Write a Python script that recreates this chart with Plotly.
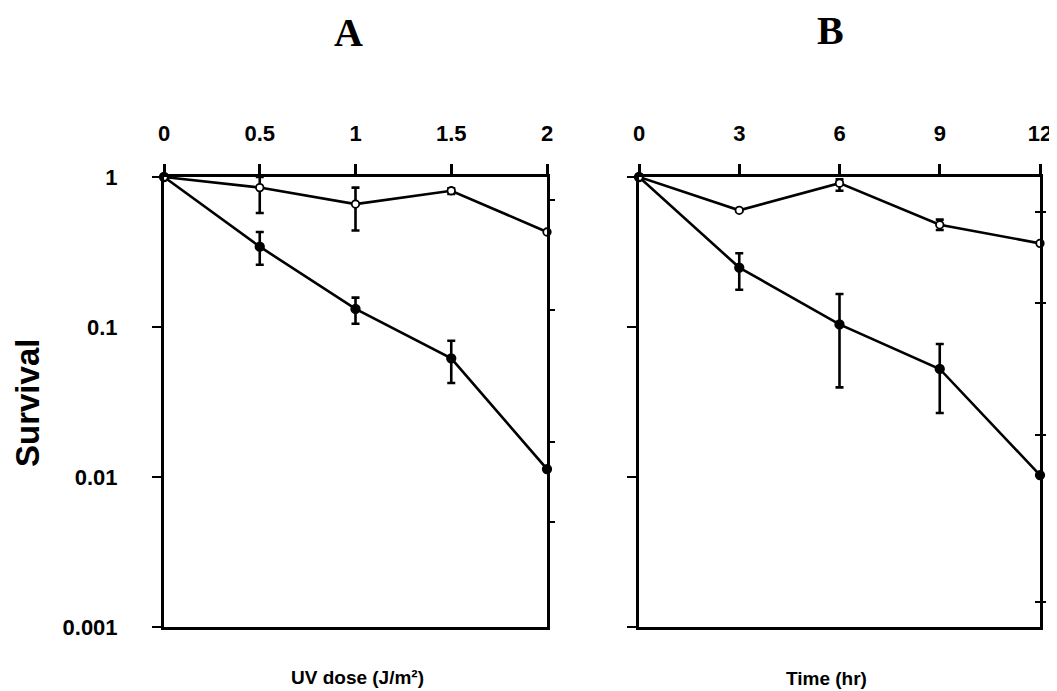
import plotly.graph_objects as go

# ---------------- data ----------------
dose_a = [0, 0.5, 1, 1.5, 2]
open_a = [1.0, 0.85, 0.66, 0.81, 0.43]
open_a_hi = [1.0, 1.0, 0.85, 0.84, 0.43]
open_a_lo = [1.0, 0.575, 0.44, 0.77, 0.43]
filled_a = [1.0, 0.343, 0.132, 0.0618, 0.0113]
filled_a_hi = [1.0, 0.43, 0.157, 0.081, 0.0113]
filled_a_lo = [1.0, 0.26, 0.105, 0.0423, 0.0113]

time_b = [0, 3, 6, 9, 12]
open_b = [1.0, 0.60, 0.91, 0.48, 0.361]
open_b_hi = [1.0, 0.61, 0.965, 0.52, 0.361]
open_b_lo = [1.0, 0.59, 0.81, 0.443, 0.361]
filled_b = [1.0, 0.249, 0.104, 0.0525, 0.0103]
filled_b_hi = [1.0, 0.31, 0.166, 0.077, 0.0103]
filled_b_lo = [1.0, 0.177, 0.0396, 0.0267, 0.0103]

xticks_a = [0, 0.5, 1, 1.5, 2]
xticklabels_a = ["0", "0.5", "1", "1.5", "2"]
xticks_b = [0, 3, 6, 9, 12]
xticklabels_b = ["0", "3", "6", "9", "12"]
yticks = [1, 0.1, 0.01, 0.001]
yticklabels = ["1", "0.1", "0.01", "0.001"]
right_ticks_a = [0.70, 0.13, 0.017, 0.005]
right_ticks_b = [0.585, 0.145, 0.019, 0.00146]

# ---------------- styling ----------------
SANS = "Liberation Sans, Arial, sans-serif"
SERIF = "Liberation Serif, Times New Roman, serif"
BLACK = "black"
LW = 2.6

# page body has an 8px default margin; work in screen pixels
OFF = 8
W, H = 1057 - OFF, 691 - OFF


def px(xs):
    return (xs - OFF) / W


def py(ys):
    return 1 - (ys - OFF) / H


def err(y, hi, lo):
    return dict(type="data", symmetric=False,
                array=[h - v for h, v in zip(hi, y)],
                arrayminus=[v - l for v, l in zip(y, lo)],
                color=BLACK, thickness=2.6, width=4)


fig = go.Figure()


def add_series(x, y, hi, lo, xa, ya, filled):
    fig.add_trace(go.Scatter(
        x=x, y=y, xaxis=xa, yaxis=ya, mode="lines+markers",
        line=dict(color=BLACK, width=LW),
        marker=dict(symbol="circle", size=8.5 if filled else 7.5,
                    color=BLACK if filled else "white",
                    line=dict(color=BLACK, width=1.8)),
        error_y=err(y, hi, lo), cliponaxis=False, showlegend=False,
        hoverinfo="x+y"))


add_series(dose_a, filled_a, filled_a_hi, filled_a_lo, "x", "y", True)
add_series(dose_a, open_a, open_a_hi, open_a_lo, "x", "y", False)
add_series(time_b, filled_b, filled_b_hi, filled_b_lo, "x2", "y2", True)
add_series(time_b, open_b, open_b_hi, open_b_lo, "x2", "y2", False)

dom_a = [px(164), px(547)]
dom_b = [px(639), px(1040)]
dom_y = [py(627), py(177)]

tick_font = dict(family=SANS, size=22, color=BLACK, weight="bold")

xcommon = dict(side="top", ticks="outside", ticklen=10, tickwidth=2.5,
               tickcolor=BLACK, showline=True, linewidth=3, linecolor=BLACK,
               mirror=True, showgrid=False, zeroline=False, automargin=False,
               tickfont=tick_font, ticklabelstandoff=14)
ycommon = dict(type="log", range=[-3, 0.0], ticks="outside", ticklen=9,
               tickwidth=2, tickcolor=BLACK, showline=True, linewidth=3,
               linecolor=BLACK, mirror=True, showgrid=False, zeroline=False,
               automargin=False,
               tickvals=yticks, ticktext=yticklabels, tickfont=tick_font,
               domain=dom_y)
extra = dict(type="log", range=[-3, 0.0], side="right", tickwidth=2,
             tickcolor=BLACK, showticklabels=False, showgrid=False,
             showline=False, zeroline=False, automargin=False)

layout = dict(
    width=W, height=H, autosize=False,
    margin=dict(l=0, r=0, t=0, b=0, autoexpand=False),
    paper_bgcolor="white", plot_bgcolor="white",
    showlegend=False,
    xaxis=dict(xcommon, domain=dom_a, range=[0, 2], anchor="y",
               tickvals=xticks_a, ticktext=xticklabels_a),
    yaxis=dict(ycommon, anchor="x", showticklabels=True,
               ticklabelstandoff=30),
    xaxis2=dict(xcommon, domain=dom_b, range=[0, 12], anchor="y2",
                tickvals=xticks_b, ticktext=xticklabels_b),
    yaxis2=dict(ycommon, anchor="x2", showticklabels=False),
    yaxis3=dict(extra, overlaying="y", anchor="x", tickvals=right_ticks_a,
                ticks="outside", ticklen=7),
    yaxis4=dict(extra, overlaying="y2", anchor="x2", tickvals=right_ticks_b,
                ticks="outside", ticklen=5),
    yaxis5=dict(extra, overlaying="y2", anchor="x2", tickvals=right_ticks_b,
                ticks="inside", ticklen=5),
)
fig.update_layout(**layout)

# keep overlay axes alive with invisible traces
for ya, xa in (("y3", "x"), ("y4", "x2"), ("y5", "x2")):
    fig.add_trace(go.Scatter(x=[None], y=[None], xaxis=xa, yaxis=ya,
                             showlegend=False, hoverinfo="skip"))


def label(text, xs, ys, font, angle=0):
    return dict(text=text, x=px(xs), y=py(ys), xref="paper", yref="paper",
                xanchor="center", yanchor="middle", showarrow=False,
                textangle=angle, font=font)


annotations = [
    label("<b>A</b>", 348, 32, dict(family=SERIF, size=40, color=BLACK)),
    label("<b>B</b>", 830, 31, dict(family=SERIF, size=40, color=BLACK)),
    label("<b>Survival</b>", 27, 403, dict(family=SANS, size=33, color=BLACK),
          angle=-90),
    label("<b>UV dose (J/m²)</b>", 357, 677,
          dict(family=SANS, size=19, color=BLACK)),
    label("<b>Time (hr)</b>", 826, 678, dict(family=SANS, size=19, color=BLACK)),
]
fig.update_layout(annotations=annotations)

fig.write_html("out.html")
